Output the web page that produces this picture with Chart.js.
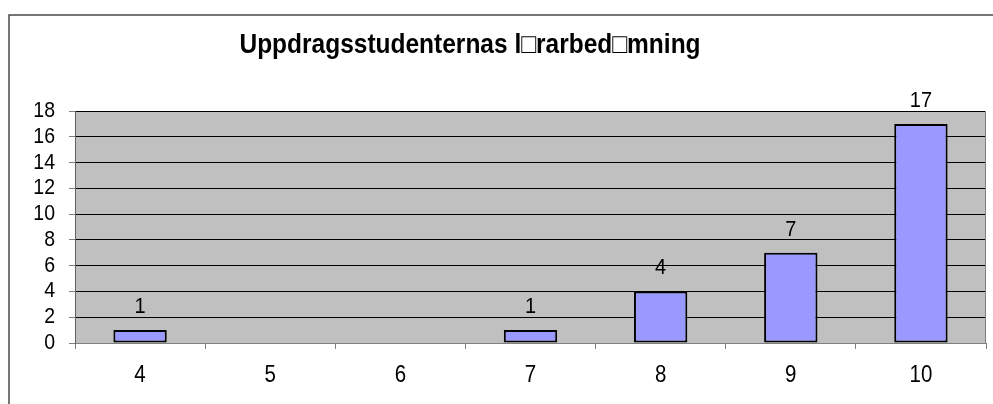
<!DOCTYPE html>
<html>
<head>
<meta charset="utf-8">
<script src="https://cdn.jsdelivr.net/npm/chart.js@4/dist/chart.umd.min.js"></script>
<style>
html,body{margin:0;padding:0;background:#fff;}
#wrap{width:993px;height:404px;position:relative;}
</style>
</head>
<body>
<div id="wrap"><canvas id="c" width="993" height="404"></canvas></div>
<script>
const chartTitle = "Uppdragsstudenternas l\u25A1rarbed\u25A1mning";
const categories = ["4", "5", "6", "7", "8", "9", "10"];
const counts = [1, 0, 0, 1, 4, 7, 17];
const yTicks = [0, 2, 4, 6, 8, 10, 12, 14, 16, 18];

const FONT = "'Liberation Sans', Arial, sans-serif";
const STRETCH = 1.13;

function drawText(ctx, text, x, y, font, align) {
  ctx.save();
  ctx.font = font;
  ctx.textAlign = align;
  ctx.textBaseline = 'alphabetic';
  ctx.fillStyle = '#000';
  ctx.translate(x, y);
  ctx.scale(1, STRETCH);
  ctx.fillText(text, 0, 0);
  ctx.restore();
}

const bgPlugin = {
  id: 'bg',
  beforeDraw(chart) {
    const ctx = chart.ctx, a = chart.chartArea;
    ctx.save();
    ctx.fillStyle = '#fff';
    ctx.fillRect(0, 0, chart.width, chart.height);
    ctx.strokeStyle = '#4a4a4a';
    ctx.lineWidth = 1.5;
    ctx.strokeRect(9, 15, chart.width + 20, chart.height + 20);
    ctx.fillStyle = '#c0c0c0';
    ctx.fillRect(a.left, a.top, a.right - a.left, a.bottom - a.top);
    ctx.restore();
  },
  afterDatasetsDraw(chart) {
    const ctx = chart.ctx, a = chart.chartArea;
    ctx.save();
    ctx.strokeStyle = '#808080';
    ctx.lineWidth = 1;
    ctx.beginPath();
    ctx.moveTo(a.right - 0.5, a.top);
    ctx.lineTo(a.right - 0.5, a.bottom);
    ctx.stroke();
    ctx.restore();
    // y tick labels
    const ys = chart.scales.y, xs = chart.scales.x;
    yTicks.forEach(v => {
      drawText(ctx, String(v), a.left - 20, ys.getPixelForValue(v) + 6, "19.5px " + FONT, 'right');
    });
    // x tick labels
    categories.forEach((c, i) => {
      drawText(ctx, c, xs.getPixelForValue(i), a.bottom + 39, "20.5px " + FONT, 'center');
    });
    // data labels
    const meta = chart.getDatasetMeta(0);
    meta.data.forEach((bar, i) => {
      const v = chart.data.datasets[0].data[i];
      if (v > 0) drawText(ctx, String(v), bar.x, bar.y - 17, "20px " + FONT, 'center');
    });
    // title
    drawText(ctx, chartTitle, 470, 53, "bold 24.5px " + FONT, 'center');
  }
};

new Chart(document.getElementById('c'), {
  type: 'bar',
  data: {
    labels: categories,
    datasets: [{
      data: counts,
      backgroundColor: '#9999ff',
      borderColor: '#000',
      borderWidth: 2,
      borderSkipped: false,
      barPercentage: 0.41,
      categoryPercentage: 1
    }]
  },
  options: {
    responsive: false,
    animation: false,
    devicePixelRatio: 1,
    layout: { padding: { left: 0, right: 7, top: 111, bottom: 0 } },
    plugins: { legend: { display: false }, title: { display: false }, tooltip: { enabled: false } },
    scales: {
      x: {
        offset: true,
        grid: { offset: true, drawOnChartArea: false, drawTicks: true, tickLength: 6, color: '#808080', lineWidth: 1 },
        border: { display: true, color: '#808080', width: 1 },
        ticks: { display: false },
        afterFit(s) { s.height = 61; }
      },
      y: {
        min: 0, max: 18,
        afterBuildTicks(s) { s.ticks = yTicks.map(v => ({ value: v })); },
        grid: { color: '#000', lineWidth: 1, drawTicks: true, tickLength: 6, tickColor: '#808080' },
        border: { display: true, color: '#606060', width: 1 },
        ticks: { display: false },
        afterFit(s) { s.width = 75; }
      }
    }
  },
  plugins: [bgPlugin]
});
</script>
</body>
</html>
